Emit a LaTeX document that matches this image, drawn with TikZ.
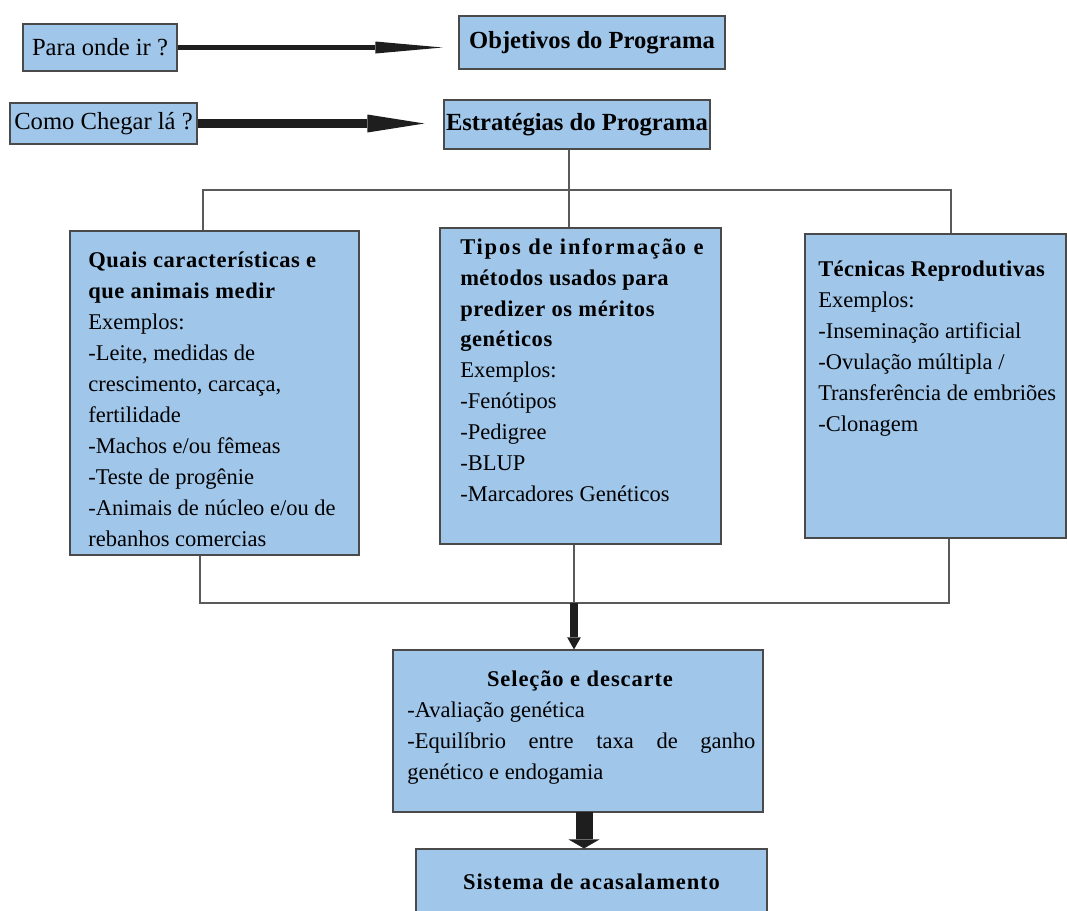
\documentclass[tikz,border=0pt]{standalone}
\usepackage{fontspec}
\setmainfont{Liberation Serif}
\usetikzlibrary{arrows.meta,positioning,calc,fit}
\definecolor{azul}{HTML}{A0C6EA}
\definecolor{borda}{HTML}{4A4A4A}
\definecolor{fio}{HTML}{5A5A5A}
\definecolor{seta}{HTML}{1E1E1E}
\newcommand{\esp}[2]{{\bfseries\addfontfeature{LetterSpace=#1}#2}}
\tikzset{
  caixa/.style={draw=borda,fill=azul,line width=0.8pt,inner sep=0pt},
  titulo/.style={inner sep=0pt,font=\fontsize{17.5}{21}\selectfont},
  txt/.style={inner sep=0pt,anchor=north west,align=left,font=\fontsize{16}{22}\selectfont},
  ligacao/.style={draw=fio,line width=0.9pt},
  espaco/.style={inner sep=0pt,font=\fontsize{16}{22}\selectfont\bfseries\addfontfeature{LetterSpace=4}},
}

\begin{document}
\begin{tikzpicture}[x=0.025cm,y=-0.025cm]
  \useasboundingbox (0,0) rectangle (1067,910);

  % perguntas e objetivos
  \node[caixa,fit={(23,24) (177,71)}] (para) {};
  \node[caixa,fit={(459,16) (725,69)}] (obj) {};
  \node[caixa,fit={(10,103) (197,144)}] (como) {};
  \node[caixa,fit={(444,100) (710,149)}] (estr) {};
  \node[titulo] (parat) at (para) {Para onde ir ?};
  \node[titulo] (objt) at (obj) {\textbf{Objetivos do Programa}};
  \node[titulo] (comot) at (como) {Como Chegar lá ?};
  \node[titulo] (estrt) at (estr) {\textbf{Estratégias do Programa}};

  \draw[seta,line width=3.8pt,-{Triangle[length=1.675cm,width=0.3cm,line width=0pt]},shorten >=0.4cm]
    (para) -- (para -| obj.west);
  \draw[seta,line width=6.4pt,-{Triangle[length=1.425cm,width=0.45cm,line width=0pt]},shorten >=0.475cm]
    (como) -- (como -| estr.west);

  % tres caixas do meio
  \node[caixa,fit={(70,231) (359,555)}] (qual) {};
  \node[caixa,fit={(440,228) (721,544)}] (tipos) {};
  \node[caixa,fit={(805,234) (1066,538)}] (tecn) {};

  \node[txt] (qualt) at (88,252) {\esp{2.6}{Quais características e}\\
    \esp{2.6}{que animais medir}\\
    Exemplos:\\
    -Leite, medidas de\\
    crescimento, carcaça,\\
    fertilidade\\
    -Machos e/ou fêmeas\\
    -Teste de progênie\\
    -Animais de núcleo e/ou de\\
    rebanhos comercias};
  \node[txt] (tipost) at (460,238) {\esp{8}{Tipos de informação e}\\
    \esp{2}{métodos usados para}\\
    \esp{2.7}{predizer os méritos}\\
    \esp{2.5}{genéticos}\\
    Exemplos:\\
    -Fenótipos\\
    -Pedigree\\
    -BLUP\\
    -Marcadores Genéticos};
  \node[txt] (tecnt) at (818,261) {\esp{1.8}{Técnicas Reprodutivas}\\
    Exemplos:\\
    -Inseminação artificial\\
    -Ovulação múltipla /\\
    Transferência de embriões\\
    -Clonagem};

  \coordinate (ne) at (203,190);
  \coordinate (nm) at (569,190);
  \coordinate (nd) at (951,190);
  \draw[ligacao] (nm |- estr.south) -- (nm |- tipos.north);
  \draw[ligacao] (ne |- qual.north) -- (ne) -- (nd) -- (nd |- tecn.north);

  % selecao e acasalamento
  \node[caixa,fit={(393,650) (763,812)}] (sel) {};
  \node[caixa,fit={(416,849) (767,914)}] (sist) {};
  \node[espaco,anchor=north] (selt) at (580,671) {Seleção e descarte};
  \node[txt,text width=8.7cm,align=justify] (selc) at (407,702) {-Avaliação genética\\
    -Equilíbrio entre taxa de ganho\linebreak genético e endogamia};
  \node[espaco] (sistt) at (sist) {Sistema de acasalamento};

  \coordinate (be) at (200,603);
  \coordinate (bm) at (574,603);
  \coordinate (bd) at (949,603);
  \draw[ligacao] (be |- qual.south) -- (be) -- (bd) -- (bd |- tecn.south);
  \draw[ligacao] (bm |- tipos.south) -- (bm);
  \draw[seta,line width=0.2cm,-{Triangle[length=0.3cm,width=0.34cm,line width=0pt]}]
    (bm) -- (bm |- sel.north);

  \coordinate (sb) at (584,812);
  \draw[seta,line width=0.425cm,-{Triangle[length=0.225cm,width=0.775cm,line width=0pt]}]
    (sb) -- (sb |- sist.north);
\end{tikzpicture}
\end{document}
